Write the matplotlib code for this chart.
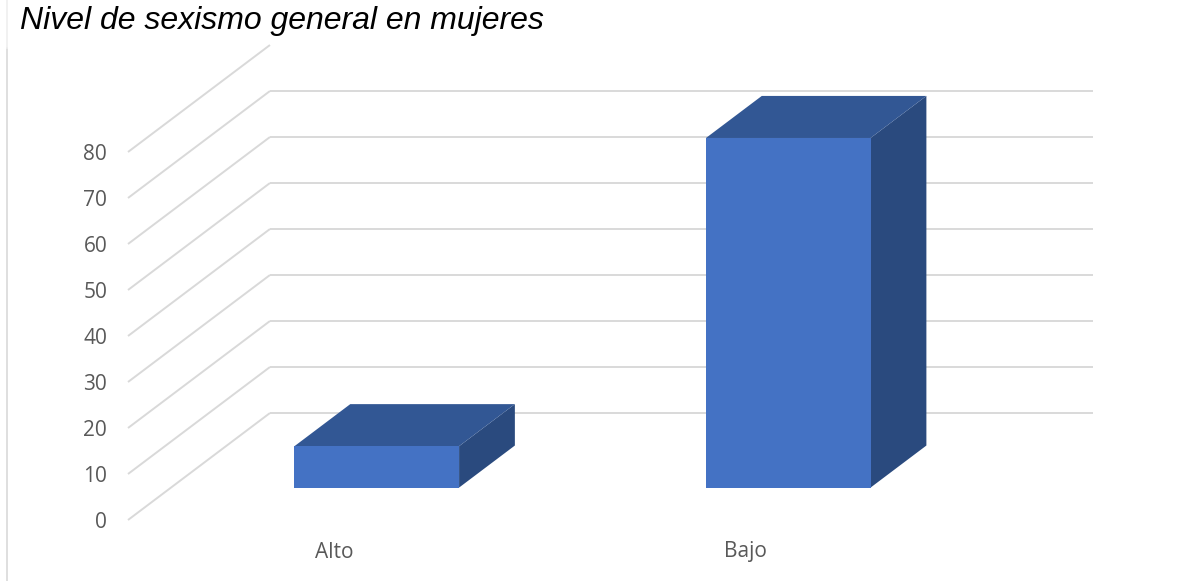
import matplotlib

matplotlib.use('Agg')
import matplotlib.pyplot as plt
from matplotlib.patches import Polygon
from matplotlib.lines import Line2D

# data
categories = ['Alto', 'Bajo']
values = [9, 76]
ticks = [0, 10, 20, 30, 40, 50, 60, 70, 80]

# 3d look (oblique projection) in data units
depth_x = 0.345      # category units
depth_y = 23.26      # value units
bar_width = 0.40
bar_front = 0.303    # fraction of floor depth where bar starts
bar_back = 0.696

front_col = '#4472C4'
top_col = '#325794'
side_col = '#2A4A7E'
grid_col = '#D9D9D9'
label_col = '#595959'

W, H = 1179, 581
fig = plt.figure(figsize=(W / 100, H / 100), dpi=100)
fig.patch.set_facecolor('white')

# axes spans the front-left corner (x=128, y=520 px) to the back-right corner
left, right, bottom = 128, 1093, 520
px_per_unit = 4.6
top_val = 104
ax = fig.add_axes([left / W, (H - bottom) / H, (right - left) / W,
                   top_val * px_per_unit / H])
ax.set_xlim(0, len(categories) + depth_x)
ax.set_ylim(0, top_val)
ax.patch.set_alpha(0)
for s in ax.spines.values():
    s.set_visible(False)
ax.set_xticks([])

# value axis labels on the front edge of the side wall
ax.set_yticks(ticks)
ax.set_yticklabels([str(t) for t in ticks], fontsize=15, color=label_col,
                   fontfamily='Open Sans')
ax.tick_params(axis='y', length=0, pad=15)

# gridlines: side wall diagonals and back wall horizontals
for t in ticks:
    ax.plot([0, depth_x], [t, t + depth_y], color=grid_col, lw=1.4,
            zorder=1, clip_on=False, solid_capstyle='butt')
for t in ticks[:-1]:
    ax.plot([depth_x, len(categories) + depth_x], [t + depth_y, t + depth_y],
            color=grid_col, lw=1.4, zorder=1, clip_on=False,
            solid_capstyle='butt')

# bars
for i, (cat, v) in enumerate(zip(categories, values)):
    c = i + 0.5
    fx, fy = bar_front * depth_x, bar_front * depth_y
    bx, by = bar_back * depth_x, bar_back * depth_y
    x0, x1 = c - bar_width / 2, c + bar_width / 2
    front = [(x0 + fx, fy), (x1 + fx, fy), (x1 + fx, v + fy), (x0 + fx, v + fy)]
    top = [(x0 + fx, v + fy), (x1 + fx, v + fy), (x1 + bx, v + by), (x0 + bx, v + by)]
    side = [(x1 + fx, fy), (x1 + bx, by), (x1 + bx, v + by), (x1 + fx, v + fy)]
    ax.add_patch(Polygon(side, closed=True, facecolor=side_col, edgecolor='none',
                         zorder=3, clip_on=False))
    ax.add_patch(Polygon(top, closed=True, facecolor=top_col, edgecolor='none',
                         zorder=3, clip_on=False))
    ax.add_patch(Polygon(front, closed=True, facecolor=front_col, edgecolor='none',
                         zorder=4, clip_on=False))
    ax.text(c, -32 / px_per_unit, cat, ha='center', va='center', fontsize=15,
            color=label_col, fontfamily='Open Sans', clip_on=False)

# title
fig.text(20 / W, 1 - 29 / H, 'Nivel de sexismo general en mujeres',
         fontsize=23, fontstyle='italic', fontfamily='Liberation Sans',
         color='black', ha='left', va='baseline')

# thin border line on the left
fig.add_artist(Line2D([7 / W, 7 / W], [0, 1 - 48 / H], color='#D9D9D9', lw=1.2))
fig.add_artist(Line2D([7 / W, 7 / W], [1 - 48 / H, 1], color='#EFEFEF', lw=1.2))

fig.savefig('out.png', dpi=100)
